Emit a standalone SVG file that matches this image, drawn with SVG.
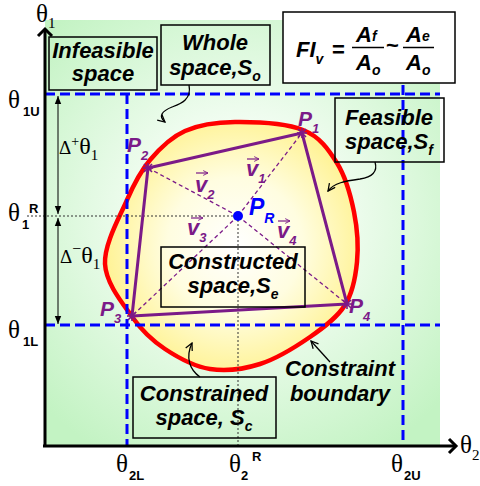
<svg xmlns="http://www.w3.org/2000/svg" xmlns:xlink="http://www.w3.org/1999/xlink" width="480" height="486" viewBox="0 0 480 486">
<defs>
<radialGradient id="gbg" gradientUnits="userSpaceOnUse" cx="240" cy="220" r="270">
<stop offset="0" stop-color="#ffffff"/>
<stop offset="0.35" stop-color="#f2fdf2"/>
<stop offset="1" stop-color="#c3f3c3"/>
</radialGradient>
<radialGradient id="gy" gradientUnits="userSpaceOnUse" cx="235" cy="245" r="135">
<stop offset="0" stop-color="#ffffff"/>
<stop offset="0.5" stop-color="#fffde0"/>
<stop offset="1" stop-color="#fff290"/>
</radialGradient>
<marker id="oa" viewBox="0 0 10 10" refX="9" refY="5" markerWidth="9" markerHeight="9" orient="auto" markerUnits="userSpaceOnUse">
<path d="M1,1 L9,5 L1,9" fill="none" stroke="#000" stroke-width="1.4"/>
</marker>
<marker id="fa" viewBox="0 0 10 10" refX="10" refY="5" markerWidth="8" markerHeight="8" orient="auto-start-reverse" markerUnits="userSpaceOnUse">
<path d="M0,1 L10,5 L0,9 Z" fill="#000"/>
</marker>
<marker id="va" viewBox="0 0 10 10" refX="9" refY="5" markerWidth="6" markerHeight="6" orient="auto" markerUnits="userSpaceOnUse">
<path d="M1,1 L9,5 L1,9" fill="none" stroke="#7b1a88" stroke-width="1.5"/>
</marker>
<g id="star" stroke="#7b1a88" stroke-width="1.6">
<line x1="-5" y1="0" x2="5" y2="0"/><line x1="0" y1="-5" x2="0" y2="5"/>
<line x1="-4" y1="-4" x2="4" y2="4"/><line x1="-4" y1="4" x2="4" y2="-4"/>
</g>
</defs>
<style>
.lbl{font-family:"Liberation Sans",Arial,sans-serif;font-weight:bold;font-style:italic;font-size:22px;fill:#000;text-anchor:middle}
.sym{font-family:"Liberation Serif","Times New Roman",serif;font-size:25px;fill:#000}
.sb{font-family:"Liberation Sans",Arial,sans-serif;font-weight:bold;font-size:13px;fill:#000}
.box{fill:none;stroke:#000;stroke-width:1.5}
.blue{stroke:#0000ff;stroke-width:3;stroke-dasharray:10 5;fill:none}
.dot{stroke:#333;stroke-width:1;stroke-dasharray:2 2;fill:none}
.pl{font-family:"Liberation Sans",Arial,sans-serif;font-weight:bold;font-style:italic;font-size:21px;fill:#7b1a88}
.vl{font-size:22px}
.ps{font-size:13px}
.pd{stroke:#7b1a88;stroke-width:1.3;stroke-dasharray:4 3;fill:none}
.conn{fill:none;stroke:#000;stroke-width:1.3}
.fm{font-family:"Liberation Sans",Arial,sans-serif;font-weight:bold;font-style:italic;font-size:22px;fill:#000}
</style>

<rect x="45" y="20" width="395" height="426" fill="url(#gbg)"/>

<g id="feasible-region">
<path d="M127,200 C134.5,182.7 140.3,171.5 150,160 C159.7,148.5 170.8,137.3 185,131 C199.2,124.7 215.3,122.2 235,122 C254.7,121.8 286,123.2 303,130 C320,136.8 328.5,149.3 337,163 C345.5,176.7 350.7,195.5 354,212 C357.3,228.5 358.5,246.5 357,262 C355.5,277.5 352.8,292.5 345,305 C337.2,317.5 324.2,327.2 310,337 C295.8,346.8 276.7,358.7 260,364 C243.3,369.3 225.8,371.5 210,369 C194.2,366.5 177.8,357.5 165,349 C152.2,340.5 143,332.2 133,318 C123,303.8 106,283.7 105,264 C104,244.3 119.5,217.3 127,200 Z" fill="url(#gy)" stroke="#ff0000" stroke-width="4.5"/>
</g>

<g id="limits">
<line class="blue" x1="45" y1="94" x2="440" y2="94"/>
<line class="blue" x1="45" y1="325" x2="440" y2="325"/>
<line class="blue" x1="127" y1="94" x2="127" y2="446"/>
<line class="blue" x1="403" y1="85" x2="403" y2="446"/>
<line class="dot" x1="27" y1="216" x2="238" y2="216"/>
<line class="dot" x1="238" y1="216" x2="238" y2="448"/>
</g>

<g id="connectors">
<polygon points="302,133 148,168 132,316 347,304" fill="none" stroke="#7b1a88" stroke-width="3" stroke-linejoin="round"/>
<line class="pd" x1="238" y1="216" x2="302" y2="133"/>
<line class="pd" x1="238" y1="216" x2="148" y2="168"/>
<line class="pd" x1="238" y1="216" x2="132" y2="316"/>
<line class="pd" x1="238" y1="216" x2="347" y2="304"/>
<path class="conn" d="M189,85 C192,100 180,104 172,107 C162,111 158,116 165,122" marker-end="url(#oa)"/>
<path class="conn" d="M375,162 C378,172 372,177 360,179 C345,181 334,183 328,191" marker-end="url(#oa)"/>
<path class="conn" d="M200,377 C190,370 185,358 192,343" marker-end="url(#oa)"/>
<path class="conn" d="M330,362 L311,341" marker-end="url(#oa)"/>
<line x1="58" y1="96" x2="58" y2="214" stroke="#000" stroke-width="1" marker-start="url(#fa)" marker-end="url(#fa)"/>
<line x1="58" y1="218" x2="58" y2="324" stroke="#000" stroke-width="1" marker-start="url(#fa)" marker-end="url(#fa)"/>
</g>

<g id="axes" fill="none" stroke="#000" stroke-width="3">
<path d="M45,446 L45,30"/>
<path d="M38,36 L45,29 L52,36"/>
<path d="M43,446 L456,446"/>
<path d="M449,439 L456,446 L449,453"/>
</g>

<g id="points">
<use xlink:href="#star" x="302" y="133"/>
<use xlink:href="#star" x="148" y="168"/>
<use xlink:href="#star" x="132" y="316"/>
<use xlink:href="#star" x="347" y="304"/>
<circle cx="238" cy="216" r="5" fill="#0000ff"/>
<text class="pl" x="298" y="126">P<tspan class="ps" dy="7">1</tspan></text>
<text class="pl" x="127" y="152">P<tspan class="ps" dy="8">2</tspan></text>
<text class="pl" x="100" y="316">P<tspan class="ps" dy="7">3</tspan></text>
<text class="pl" x="349" y="313">P<tspan class="ps" dy="8">4</tspan></text>
<text class="pl" x="249" y="215" style="fill:#0000ff;font-size:23px">P<tspan font-size="14" dy="8">R</tspan></text>
</g>

<g id="vectors">
<text class="pl vl" x="246" y="176">v<tspan class="ps" dy="7">1</tspan></text>
<line x1="247" y1="159" x2="259" y2="159" stroke="#7b1a88" stroke-width="1.2" marker-end="url(#va)"/>
<text class="pl vl" x="195" y="192">v<tspan class="ps" dy="7">2</tspan></text>
<line x1="196" y1="173" x2="208" y2="173" stroke="#7b1a88" stroke-width="1.2" marker-end="url(#va)"/>
<text class="pl vl" x="187" y="235">v<tspan class="ps" dy="7">3</tspan></text>
<line x1="191" y1="218" x2="203" y2="218" stroke="#7b1a88" stroke-width="1.2" marker-end="url(#va)"/>
<text class="pl vl" x="277" y="238">v<tspan class="ps" dy="7">4</tspan></text>
<line x1="278" y1="221" x2="290" y2="221" stroke="#7b1a88" stroke-width="1.2" marker-end="url(#va)"/>
</g>

<g id="infeasible">
<rect class="box" x="49" y="37" width="108" height="53"/>
<text class="lbl" x="103" y="58">Infeasible</text>
<text class="lbl" x="103" y="81">space</text>
</g>

<g id="whole">
<rect class="box" x="161" y="25" width="109" height="60"/>
<text class="lbl" x="215" y="50">Whole</text>
<text class="lbl" x="215" y="75">space,S<tspan font-size="14" dy="6">o</tspan></text>
</g>

<g id="formula">
<rect x="283" y="12" width="172" height="71" fill="#fff" stroke="#000" stroke-width="1.5"/>
<text class="fm" x="296" y="57" font-size="20">FI<tspan font-size="14" dy="7">v</tspan></text>
<text class="fm" x="332" y="57" style="font-style:normal">=</text>
<line x1="352" y1="47.5" x2="384" y2="47.5" stroke="#000" stroke-width="1.5"/>
<text class="fm" x="356" y="42">A<tspan font-size="14" dy="-1">f</tspan></text>
<text class="fm" x="356" y="70">A<tspan font-size="14" dy="5">o</tspan></text>
<text class="fm" x="386" y="53" style="font-style:normal">~</text>
<line x1="403" y1="47.5" x2="434" y2="47.5" stroke="#000" stroke-width="1.5"/>
<text class="fm" x="406" y="42">A<tspan font-size="14" dy="-1">e</tspan></text>
<text class="fm" x="406" y="70">A<tspan font-size="14" dy="5">o</tspan></text>
</g>

<g id="feasible">
<rect class="box" x="335" y="98" width="109" height="64"/>
<text class="lbl" x="389" y="125">Feasible</text>
<text class="lbl" x="389" y="149">space,S<tspan font-size="14" dy="6">f</tspan></text>
</g>

<g id="constructed">
<rect class="box" x="161" y="247" width="144" height="60"/>
<text class="lbl" x="233" y="269">Constructed</text>
<text class="lbl" x="233" y="293">space,S<tspan font-size="14" dy="6">e</tspan></text>
</g>

<g id="constrained">
<rect class="box" x="133" y="377" width="143" height="61"/>
<text class="lbl" x="204" y="401">Constrained</text>
<text class="lbl" x="204" y="425">space, S<tspan font-size="14" dy="6">c</tspan></text>
</g>

<g id="boundary-label">
<text class="lbl" x="340" y="376">Constraint</text>
<text class="lbl" x="340" y="401">boundary</text>
</g>

<g id="axis-labels">
<text class="sym" x="36" y="22" font-size="24">θ<tspan font-size="15" dy="6">1</tspan></text>
<text class="sym" x="460" y="453">θ<tspan font-size="15" dy="7">2</tspan></text>
<text class="sym" x="8" y="108">θ</text><text class="sb" x="23" y="116">1U</text>
<text class="sym" x="8" y="221">θ</text><text class="sb" x="22" y="229">1</text><text class="sb" x="29" y="213">R</text>
<text class="sym" x="8" y="338">θ</text><text class="sb" x="23" y="346">1L</text>
<text class="sym" x="116" y="472">θ</text><text class="sb" x="129" y="480">2L</text>
<text class="sym" x="229" y="472">θ</text><text class="sb" x="241" y="480">2</text><text class="sb" x="252" y="461">R</text>
<text class="sym" x="391" y="472">θ</text><text class="sb" x="404" y="480">2U</text>
<text class="sym" x="59" y="154"><tspan font-size="19">Δ</tspan><tspan font-size="14" dy="-8">+</tspan><tspan font-size="24" dy="8">θ</tspan><tspan font-size="15" dy="6">1</tspan></text>
<text class="sym" x="60" y="263"><tspan font-size="19">Δ</tspan><tspan font-size="16" dy="-9">−</tspan><tspan font-size="24" dy="9">θ</tspan><tspan font-size="15" dy="6">1</tspan></text>
</g>
</svg>
